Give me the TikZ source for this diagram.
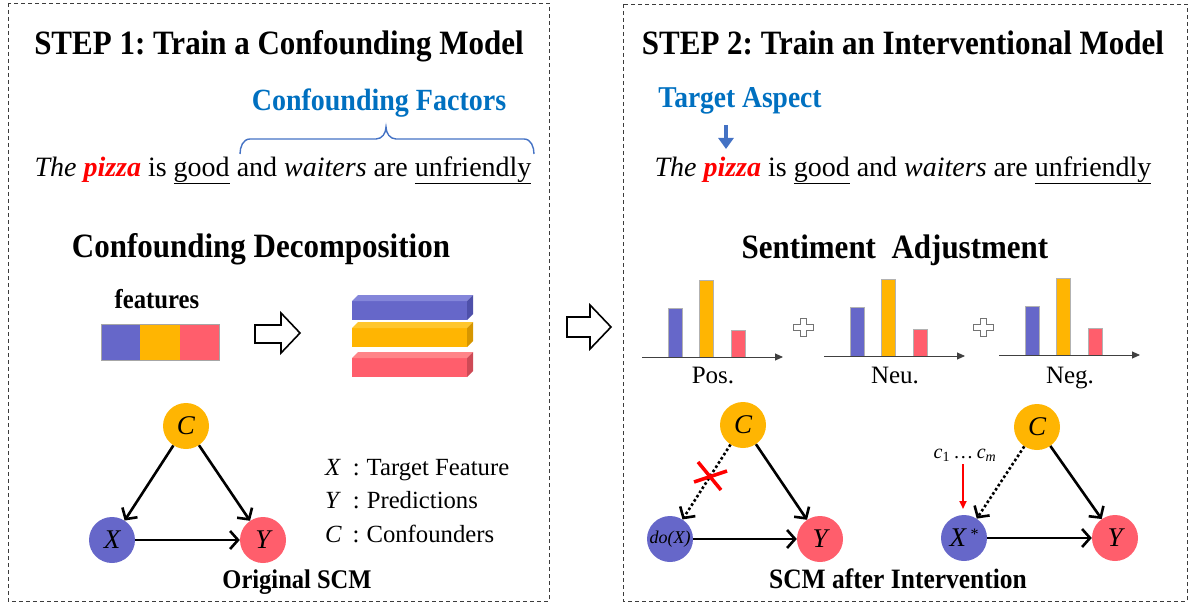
\documentclass[tikz,border=0pt]{standalone}
\usepackage{graphicx}
\usepackage{fontspec}
\setmainfont{Liberation Serif}
\usetikzlibrary{arrows.meta}
\definecolor{nblue}{RGB}{102,103,201}
\definecolor{nbluetop}{RGB}{132,134,218}
\definecolor{nblueside}{RGB}{78,80,170}
\definecolor{corange}{RGB}{255,181,2}
\definecolor{corangetop}{RGB}{255,198,45}
\definecolor{corangeside}{RGB}{214,150,0}
\definecolor{cred}{RGB}{255,94,108}
\definecolor{credtop}{RGB}{255,132,136}
\definecolor{credside}{RGB}{206,74,86}
\definecolor{tblue}{RGB}{0,112,192}
\definecolor{bblue}{RGB}{68,114,196}
\definecolor{boxgray}{RGB}{60,60,60}
\newcommand\myfs[1]{\fontsize{#1}{#1}\selectfont}
\newcommand\vstr[1]{\scalebox{1}[1.1]{#1}}
\begin{document}
\frenchspacing
\begin{tikzpicture}[x=1pt,y=-1pt,
  txt/.style={anchor=base, inner sep=0pt, outer sep=0pt},
  cnode/.style={circle, minimum size=46pt, inner sep=0pt, font=\myfs{27}\itshape},
  arr/.style={line width=2.6pt, -{Straight Barb[length=8pt,width=18pt]}},
  dotarr/.style={arr, dash pattern=on 2.6pt off 2.4pt},
  panel/.style={draw=boxgray, line width=0.9pt, dash pattern=on 4pt off 3pt},
  hollow/.style={draw=black, line width=1.6pt, fill=white, line join=miter},
  barline/.style={draw=black!30, line width=0.6pt},
  axis/.style={draw=black!75, line width=0.9pt, -{Triangle[length=8pt,width=7pt]}},
  plusshape/.style={draw=black!55, line width=0.8pt, fill=white}
]
\useasboundingbox (0,0) rectangle (1190,604);

% panels
\draw[panel] (8,3) rectangle (549,601);
\draw[panel] (623,4) rectangle (1187,601);

% middle hollow arrow
\draw[hollow] (567,317) -- (590,317) -- (590,305) -- (611,327) -- (590,349) -- (590,337) -- (567,337) -- cycle;

% ---------------- STEP 1 ----------------
\node[txt, font=\myfs{31}\bfseries] (t1) at (279,55) {\vstr{STEP 1: Train a Confounding Model}};
\node[txt, font=\myfs{28}\bfseries, text=tblue] (cf) at (379,111) {\vstr{Confounding Factors}};
\draw[bblue, line width=1.4pt] (240,154) to[out=90,in=180] (250,139) -- (376,139)
   to[out=0,in=-90] (386,127) to[out=-90,in=180] (396,139) -- (524,139) to[out=0,in=90] (534,154);
\node[txt, font=\myfs{28}] (s1) at (283,176) {\textit{The} \textcolor{red}{\bfseries\itshape pizza} is \underline{good} and \textit{waiters} are \underline{unfriendly}};

\node[txt, font=\myfs{31}\bfseries] (cd) at (261,257) {\vstr{Confounding Decomposition}};
\node[txt, font=\myfs{24.7}\bfseries] (feat) at (157,308) {\vstr{features}};
\fill[nblue] (101,324) rectangle (140,360);
\fill[corange] (140,324) rectangle (180,360);
\fill[cred] (180,324) rectangle (219,360);
\draw[black!35, line width=0.6pt] (101,324) rectangle (219,360);

\draw[hollow] (255,325) -- (281,325) -- (281,313) -- (300,333) -- (281,353) -- (281,343) -- (255,343) -- cycle;

% 3D bars
\foreach \yy/\cf/\ct/\cs in {301/nblue/nbluetop/nblueside, 328/corange/corangetop/corangeside, 358/cred/credtop/credside}{
  \fill[\cf] (352,\yy) rectangle (467,{\yy+19});
  \fill[\ct] (352,\yy) -- (358,{\yy-6}) -- (473,{\yy-6}) -- (467,\yy) -- cycle;
  \fill[\cs] (467,\yy) -- (473,{\yy-6}) -- (473,{\yy+13}) -- (467,{\yy+19}) -- cycle;
}

% original SCM
\node[cnode, fill=corange] (C1) at (186,426) {C};
\node[cnode, fill=nblue] (X1) at (112,540) {X};
\node[cnode, fill=cred] (Y1) at (263,540) {Y};
\draw[arr] (C1) -- (X1);
\draw[arr] (C1) -- (Y1);
\draw[arr] (X1) -- (Y1);

\node[txt, anchor=base west, font=\myfs{24.7}] (lx) at (325,475) {\textit{X}\hspace{12pt}:\hspace{7pt}Target Feature};
\node[txt, anchor=base west, font=\myfs{24.7}] (ly) at (325,508) {\textit{Y}\hspace{12pt}:\hspace{7pt}Predictions};
\node[txt, anchor=base west, font=\myfs{24.7}] (lc) at (325,542) {\textit{C}\hspace{11pt}:\hspace{7pt}Confounders};
\node[txt, font=\myfs{24.5}\bfseries] (osc) at (297,588) {\vstr{Original SCM}};

% ---------------- STEP 2 ----------------
\node[txt, font=\myfs{31}\bfseries] (t2) at (903,55) {\vstr{STEP 2: Train an Interventional Model}};
\node[txt, font=\myfs{27.5}\bfseries, text=tblue] (ta) at (740,108) {\vstr{Target Aspect}};
\coordinate (pz0) at (726,125);
\coordinate (pz) at (726,149);
\draw[bblue, line width=4.5pt, -{Triangle[length=11pt,width=15pt]}] (pz0) -- (pz);
\node[txt, font=\myfs{28}] (s2) at (903,176) {\textit{The} \textcolor{red}{\bfseries\itshape pizza} is \underline{good} and \textit{waiters} are \underline{unfriendly}};

\node[txt, font=\myfs{31}\bfseries] (sa) at (895,258) {\vstr{Sentiment\ \ Adjustment}};

\foreach \cx/\cy/\lab/\nm in {642/357/Pos./pos, 824/356/Neu./neu, 999/355/Neg./neg}{
  \fill[nblue] ({\cx+26},\cy) rectangle ({\cx+40},{\cy-49});
  \draw[barline] ({\cx+26},\cy) rectangle ({\cx+40},{\cy-49});
  \fill[corange] ({\cx+57},\cy) rectangle ({\cx+71},{\cy-77});
  \draw[barline] ({\cx+57},\cy) rectangle ({\cx+71},{\cy-77});
  \fill[cred] ({\cx+89},\cy) rectangle ({\cx+103},{\cy-27});
  \draw[barline] ({\cx+89},\cy) rectangle ({\cx+103},{\cy-27});
  \coordinate (\nm-a) at (\cx,\cy);
  \coordinate (\nm-b) at ({\cx+141},\cy);
  \draw[axis] (\nm-a) -- (\nm-b);
  \node[txt, font=\myfs{25}] (\nm-lab) at ({\cx+71},383) {\lab};
}
\foreach \px/\nm in {803/p1, 983/p2}{
  \draw[plusshape] ({\px-3},318) -- ({\px+3},318) -- ({\px+3},324) -- ({\px+10},324) -- ({\px+10},330) -- ({\px+3},330) -- ({\px+3},336) -- ({\px-3},336) -- ({\px-3},330) -- ({\px-10},330) -- ({\px-10},324) -- ({\px-3},324) -- cycle;
}

% SCM after intervention (A)
\node[cnode, fill=corange] (C2) at (743,425) {C};
\node[cnode, fill=nblue, font=\myfs{18}\itshape] (X2) at (670,539) {do(X)};
\node[cnode, fill=cred] (Y2) at (820,539) {Y};
\draw[dotarr] (C2) -- (X2);
\draw[arr] (C2) -- (Y2);
\draw[arr] (X2) -- (Y2);
\draw[red, line width=3.5pt] (698,462) -- (721,490);
\draw[red, line width=3.5pt] (694,482) -- (727,471);

% SCM after intervention (B)
\node[cnode, fill=corange] (C3) at (1037,427) {C};
\node[cnode, fill=nblue] (X3) at (964,538) {X\,\raisebox{7pt}{\upshape\myfs{16}*}};
\node[cnode, fill=cred] (Y3) at (1115,538) {Y};
\draw[dotarr] (C3) -- (X3);
\draw[arr] (C3) -- (Y3);
\draw[arr] (X3) -- (Y3);
\node[txt, font=\myfs{20}] (cm) at (965,458) {\textit{c}\textsubscript{1}\,\ldots\,\textit{c}\textsubscript{\textit{m}}};
\coordinate (cm0) at (963,464);
\coordinate (cm1) at (963,509);
\draw[red, line width=1.8pt, -{Triangle[length=8pt,width=7pt]}] (cm0) -- (cm1);

\node[txt, font=\myfs{25.5}\bfseries] (sai) at (898,588) {\vstr{SCM after Intervention}};
\end{tikzpicture}
\end{document}
